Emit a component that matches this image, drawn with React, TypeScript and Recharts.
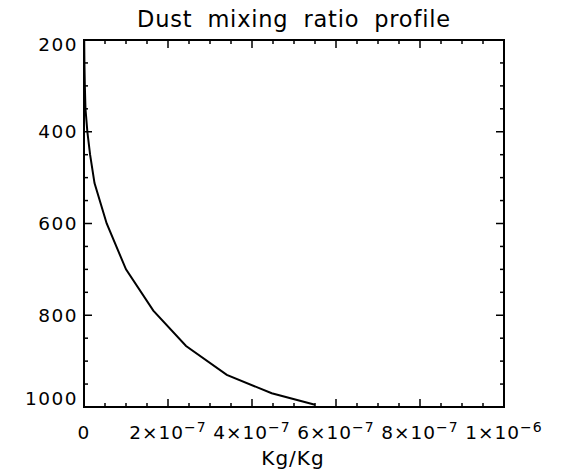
import React from "react";
import { LineChart, Line, XAxis, YAxis } from "recharts";

// pressure levels (hPa) and dust mixing ratio (kg/kg)
const PRESSURE = [200, 250, 300, 350, 400, 450, 512, 600, 700, 790, 867, 930, 970, 995];
const DUST = [0.05e-8, 0.1e-8, 0.2e-8, 0.35e-8, 0.8e-8, 1.45e-8, 2.5e-8, 5.4e-8, 1.0e-7, 1.65e-7, 2.43e-7, 3.4e-7, 4.47e-7, 5.5e-7];

const X_TICKS = [
  0, 5e-8, 1e-7, 1.5e-7, 2e-7, 2.5e-7, 3e-7, 3.5e-7, 4e-7, 4.5e-7, 5e-7,
  5.5e-7, 6e-7, 6.5e-7, 7e-7, 7.5e-7, 8e-7, 8.5e-7, 9e-7, 9.5e-7, 1e-6,
];
const X_LABEL_BASE = ["0", "2×10", "4×10", "6×10", "8×10", "1×10"];
const X_LABEL_EXP = ["", "−7", "−7", "−7", "−7", "−6"];

const Y_TICKS = [200, 250, 300, 350, 400, 450, 500, 550, 600, 650, 700, 750, 800, 850, 900, 950, 1000];
const Y_LABELS = ["200", "400", "600", "800", "1000"];

const data = PRESSURE.map((p, i) => ({ p, q: DUST[i] }));

const FONT = "'DejaVu Sans', sans-serif";
const W = 561;
const H = 472;

function xTick(props: any, side: "top" | "bottom") {
  const { x, y, index } = props;
  const major = index % 4 === 0;
  const len = major ? 8 : 4;
  const dir = side === "bottom" ? -1 : 1;
  const li = index / 4;
  return (
    <g>
      <line x1={x} y1={y} x2={x} y2={y + dir * len} stroke="#000" strokeWidth={1.5} />
      {side === "bottom" && major && (
        <text x={x} y={y + 32} textAnchor="middle" fontFamily={FONT} fontSize={18.5} letterSpacing={1} fill="#000">
          <tspan>{X_LABEL_BASE[li]}</tspan>
          {X_LABEL_EXP[li] && (
            <tspan dy={-7} fontSize={14}>{X_LABEL_EXP[li]}</tspan>
          )}
        </text>
      )}
    </g>
  );
}

function yTick(props: any, side: "left" | "right") {
  const { x, y, index } = props;
  const major = index % 4 === 0;
  const len = major ? 8 : 4;
  const dir = side === "left" ? 1 : -1;
  let dy = 6.6;
  if (index === 0) dy = 11;
  if (index === Y_TICKS.length - 1) dy = -1.8;
  return (
    <g>
      <line x1={x} y1={y} x2={x + dir * len} y2={y} stroke="#000" strokeWidth={1.5} />
      {side === "left" && major && (
        <text x={x - 6} y={y + dy} textAnchor="end" fontFamily={FONT} fontSize={18.5} letterSpacing={1.5} fill="#000">
          {Y_LABELS[index / 4]}
        </text>
      )}
    </g>
  );
}

const frame = { stroke: "#000", strokeWidth: 2, strokeLinecap: "square" as const };

export default function App() {
  return (
    <div style={{ position: "absolute", left: 0, top: 0, width: W, height: H, background: "#fff" }}>
      <LineChart
        width={W}
        height={H}
        data={data}
        layout="vertical"
        margin={{ top: 39, right: 56, bottom: 64, left: 83 }}
      >
        <XAxis
          xAxisId="bottom"
          type="number"
          orientation="bottom"
          domain={[0, 1e-6]}
          ticks={X_TICKS}
          interval={0}
          height={1}
          tickSize={0}
          tickMargin={0}
          tickLine={false}
          axisLine={frame}
          tick={(p: any) => xTick(p, "bottom")}
          allowDataOverflow
        />
        <XAxis
          xAxisId="top"
          type="number"
          orientation="top"
          domain={[0, 1e-6]}
          ticks={X_TICKS}
          interval={0}
          height={1}
          tickSize={0}
          tickMargin={0}
          tickLine={false}
          axisLine={frame}
          tick={(p: any) => xTick(p, "top")}
          allowDataOverflow
        />
        <YAxis
          yAxisId="left"
          type="number"
          dataKey="p"
          orientation="left"
          domain={[200, 1000]}
          ticks={Y_TICKS}
          interval={0}
          width={1}
          tickSize={0}
          tickMargin={0}
          tickLine={false}
          axisLine={frame}
          tick={(p: any) => yTick(p, "left")}
          allowDataOverflow
        />
        <YAxis
          yAxisId="right"
          type="number"
          dataKey="p"
          orientation="right"
          domain={[200, 1000]}
          ticks={Y_TICKS}
          interval={0}
          width={1}
          tickSize={0}
          tickMargin={0}
          tickLine={false}
          axisLine={frame}
          tick={(p: any) => yTick(p, "right")}
          allowDataOverflow
        />
        <Line
          xAxisId="bottom"
          yAxisId="left"
          dataKey="q"
          type="linear"
          stroke="#000"
          strokeWidth={2}
          dot={false}
          isAnimationActive={false}
        />
      </LineChart>
      <svg width={W} height={H} style={{ position: "absolute", left: 0, top: 0, pointerEvents: "none" }}>
        <text x={294} y={27.3} textAnchor="middle" fontFamily={FONT} fontSize={22.5} letterSpacing={0.8} wordSpacing={7} fill="#000">
          Dust mixing ratio profile
        </text>
        <text x={293} y={465} textAnchor="middle" fontFamily={FONT} fontSize={20} letterSpacing={1} fill="#000">
          Kg/Kg
        </text>
      </svg>
    </div>
  );
}
